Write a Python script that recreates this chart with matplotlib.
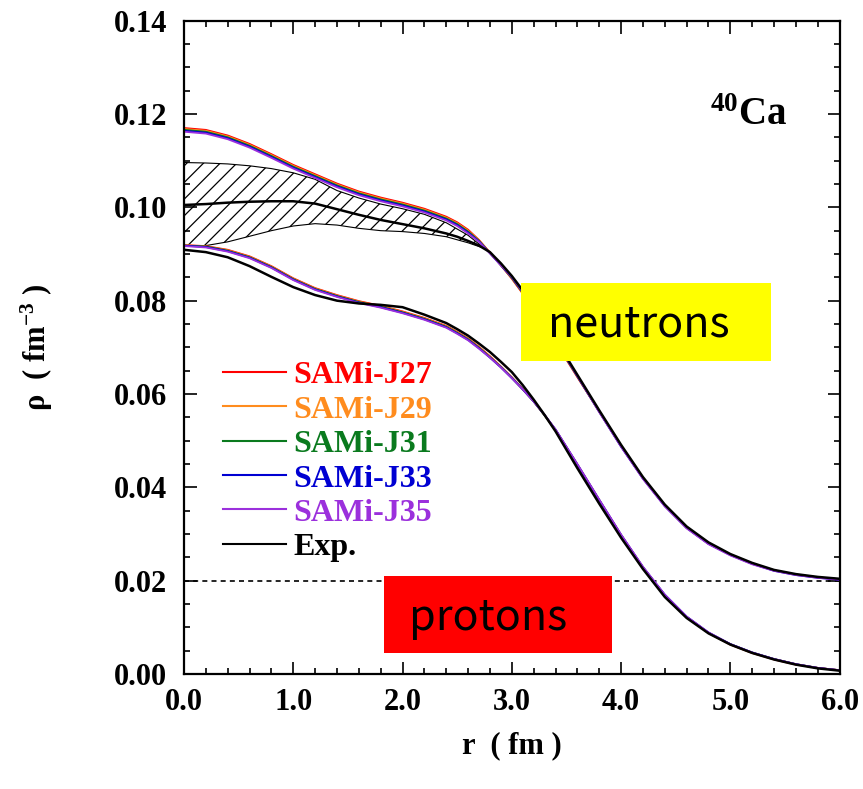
import matplotlib
matplotlib.use("Agg")
import matplotlib.pyplot as plt
from matplotlib.patches import Rectangle
from matplotlib.ticker import MultipleLocator, FormatStrFormatter

# fonts
plt.rcParams['font.family'] = ['Liberation Serif', 'DejaVu Serif']
plt.rcParams['font.weight'] = 'bold'
plt.rcParams['mathtext.fontset'] = 'custom'
plt.rcParams['mathtext.rm'] = 'Liberation Serif:bold'
plt.rcParams['mathtext.bf'] = 'Liberation Serif:bold'
plt.rcParams['mathtext.default'] = 'rm'
plt.rcParams['hatch.linewidth'] = 0.9

# radius grid (fm), denser around the surface knee
r = [0.0, 0.2, 0.4, 0.6, 0.8, 1.0, 1.2, 1.4, 1.6, 1.8, 2.0,
     2.2, 2.4, 2.5, 2.6, 2.7, 2.8, 2.9, 3.0, 3.1, 3.2, 3.3, 3.4, 3.6, 3.8, 4.0,
     4.2, 4.4, 4.6, 4.8, 5.0, 5.2, 5.4, 5.6, 5.8, 6.0]

# proton densities (fm^-3)
p_j27 = [0.0919, 0.0917, 0.0909, 0.0895, 0.0874, 0.0848, 0.0827, 0.0812, 0.0799, 0.0789, 0.0777,
         0.0763, 0.0746, 0.0733, 0.0719, 0.0701, 0.0681, 0.0659, 0.0636, 0.0611, 0.0585, 0.0555,
         0.0523, 0.0448, 0.0372, 0.0297,
         0.0228, 0.0168, 0.0122, 0.0088, 0.0063, 0.0045, 0.0031, 0.0020, 0.0013, 0.0008]
p_j29 = [0.0919, 0.0916, 0.0908, 0.0894, 0.0873, 0.0847, 0.0826, 0.0811, 0.0798, 0.0788, 0.0776,
         0.0762, 0.0745, 0.0732, 0.0718, 0.0700, 0.0680, 0.0658, 0.0635, 0.0610, 0.0584, 0.0554,
         0.0523, 0.0448, 0.0372, 0.0297,
         0.0228, 0.0169, 0.0122, 0.0088, 0.0063, 0.0045, 0.0032, 0.0021, 0.0013, 0.0008]
p_j31 = [0.0918, 0.0916, 0.0907, 0.0893, 0.0872, 0.0846, 0.0825, 0.0810, 0.0797, 0.0787, 0.0775,
         0.0761, 0.0744, 0.0731, 0.0717, 0.0699, 0.0679, 0.0658, 0.0635, 0.0610, 0.0584, 0.0554,
         0.0523, 0.0449, 0.0373, 0.0298,
         0.0229, 0.0169, 0.0122, 0.0088, 0.0064, 0.0046, 0.0032, 0.0021, 0.0013, 0.0008]
p_j33 = [0.0918, 0.0915, 0.0906, 0.0892, 0.0871, 0.0845, 0.0824, 0.0809, 0.0796, 0.0786, 0.0774,
         0.0760, 0.0743, 0.0730, 0.0716, 0.0698, 0.0678, 0.0657, 0.0634, 0.0610, 0.0584, 0.0555,
         0.0524, 0.0449, 0.0373, 0.0298,
         0.0229, 0.0170, 0.0123, 0.0089, 0.0064, 0.0046, 0.0032, 0.0021, 0.0013, 0.0008]
p_j35 = [0.0917, 0.0914, 0.0905, 0.0891, 0.0870, 0.0844, 0.0823, 0.0808, 0.0795, 0.0785, 0.0773,
         0.0759, 0.0742, 0.0729, 0.0715, 0.0697, 0.0678, 0.0657, 0.0634, 0.0610, 0.0584, 0.0555,
         0.0524, 0.0450, 0.0374, 0.0299,
         0.0230, 0.0170, 0.0123, 0.0089, 0.0064, 0.0046, 0.0032, 0.0021, 0.0013, 0.0008]
p_exp = [0.0909, 0.0904, 0.0893, 0.0874, 0.0851, 0.0829, 0.0812, 0.0800, 0.0794, 0.0791, 0.0786,
         0.0770, 0.0752, 0.0739, 0.0725, 0.0708, 0.0690, 0.0669, 0.0647, 0.0619, 0.0588, 0.0555,
         0.0520, 0.0441, 0.0365, 0.0292,
         0.0225, 0.0165, 0.0120, 0.0087, 0.0063, 0.0045, 0.0031, 0.0020, 0.0012, 0.0007]

# neutron densities, shifted up by 0.02 fm^-3
n_j27 = [0.1170, 0.1166, 0.1154, 0.1136, 0.1114, 0.1091, 0.1071, 0.1051, 0.1034, 0.1021, 0.1010,
         0.0997, 0.0980, 0.0968, 0.0952, 0.0930, 0.0903, 0.0876, 0.0847, 0.0815, 0.0782, 0.0747,
         0.0711, 0.0636, 0.0563, 0.0489,
         0.0420, 0.0361, 0.0314, 0.0280, 0.0256, 0.0237, 0.0222, 0.0213, 0.0207, 0.0203]
n_j29 = [0.1168, 0.1164, 0.1152, 0.1134, 0.1112, 0.1089, 0.1069, 0.1049, 0.1032, 0.1019, 0.1008,
         0.0995, 0.0978, 0.0966, 0.0950, 0.0929, 0.0903, 0.0876, 0.0848, 0.0816, 0.0784, 0.0748,
         0.0712, 0.0637, 0.0562, 0.0488,
         0.0420, 0.0361, 0.0314, 0.0280, 0.0256, 0.0237, 0.0222, 0.0213, 0.0207, 0.0203]
n_j31 = [0.1166, 0.1162, 0.1150, 0.1132, 0.1110, 0.1087, 0.1067, 0.1047, 0.1030, 0.1017, 0.1006,
         0.0993, 0.0976, 0.0964, 0.0948, 0.0928, 0.0902, 0.0876, 0.0849, 0.0817, 0.0785, 0.0749,
         0.0713, 0.0638, 0.0562, 0.0488,
         0.0419, 0.0360, 0.0313, 0.0279, 0.0255, 0.0236, 0.0222, 0.0213, 0.0207, 0.0203]
n_j33 = [0.1164, 0.1160, 0.1148, 0.1130, 0.1108, 0.1085, 0.1065, 0.1045, 0.1028, 0.1015, 0.1004,
         0.0991, 0.0974, 0.0962, 0.0946, 0.0927, 0.0902, 0.0876, 0.0850, 0.0818, 0.0786, 0.0750,
         0.0714, 0.0638, 0.0562, 0.0487,
         0.0419, 0.0360, 0.0313, 0.0279, 0.0255, 0.0236, 0.0221, 0.0212, 0.0206, 0.0202]
n_j35 = [0.1162, 0.1158, 0.1146, 0.1128, 0.1106, 0.1083, 0.1063, 0.1043, 0.1026, 0.1013, 0.1002,
         0.0989, 0.0972, 0.0960, 0.0944, 0.0926, 0.0901, 0.0876, 0.0851, 0.0819, 0.0787, 0.0751,
         0.0715, 0.0639, 0.0561, 0.0487,
         0.0418, 0.0359, 0.0312, 0.0278, 0.0254, 0.0235, 0.0221, 0.0212, 0.0206, 0.0202]
n_exp = [0.1005, 0.1007, 0.1010, 0.1012, 0.1013, 0.1013, 0.1008, 0.0996, 0.0984, 0.0973, 0.0964,
         0.0955, 0.0944, 0.0937, 0.0928, 0.0918, 0.0904, 0.0880, 0.0853, 0.0822, 0.0789, 0.0754,
         0.0717, 0.0641, 0.0565, 0.0491,
         0.0422, 0.0363, 0.0316, 0.0282, 0.0257, 0.0238, 0.0223, 0.0214, 0.0208, 0.0204]

# experimental neutron uncertainty band (shifted)
r_band = [0.0, 0.2, 0.4, 0.6, 0.8, 1.0, 1.2, 1.4, 1.6, 1.8, 2.0, 2.2, 2.4, 2.6, 2.75]
band_hi = [0.1096, 0.1095, 0.1093, 0.1089, 0.1083, 0.1074, 0.1060, 0.1036, 0.1020, 0.1007,
           0.0997, 0.0985, 0.0967, 0.0940, 0.0912]
band_lo = [0.0917, 0.0918, 0.0926, 0.0938, 0.0950, 0.0960, 0.0965, 0.0962, 0.0955, 0.0950,
           0.0948, 0.0944, 0.0937, 0.0924, 0.0912]

labels = ['SAMi-J27', 'SAMi-J29', 'SAMi-J31', 'SAMi-J33', 'SAMi-J35', 'Exp.']
colors = ['#FF0000', '#FF8C1E', '#0A7A1E', '#0000D2', '#9B30DC', '#000000']
protons = [p_j27, p_j29, p_j31, p_j33, p_j35]
neutrons = [n_j27, n_j29, n_j31, n_j33, n_j35]

fig = plt.figure(figsize=(8.63, 7.89), dpi=100)
ax = fig.add_axes([0.2132, 0.1458, 0.7597, 0.828])

# hatched band
ax.fill_between(r_band, band_lo, band_hi, facecolor='none', edgecolor='black',
                hatch='//', linewidth=0.8, zorder=1)

for c, p, n in zip(colors, protons, neutrons):
    ax.plot(r, p, color=c, lw=1.3, zorder=2)
    ax.plot(r, n, color=c, lw=1.3, zorder=2)
ax.plot(r, p_exp, color='black', lw=1.8, zorder=3)
ax.plot(r, n_exp, color='black', lw=1.8, zorder=3)

# baseline of shifted neutron density
ax.axhline(0.02, color='black', lw=1.2, ls=(0, (3, 2.5)), zorder=1)

# labelled boxes
ax.add_patch(Rectangle((3.08, 0.0671), 2.29, 0.0166, facecolor='#FFFF00',
                       edgecolor='none', zorder=5))
ax.text(4.16, 0.0723, 'neutrons', family=['Noto Sans CJK JP', 'DejaVu Sans'],
        fontweight='normal', fontsize=31, ha='center', va='baseline', zorder=6)
ax.add_patch(Rectangle((1.83, 0.00444), 2.09, 0.01656, facecolor='#FF0000',
                       edgecolor='none', zorder=5))
ax.text(2.78, 0.0094, 'protons', family=['Noto Sans CJK JP', 'DejaVu Sans'],
        fontweight='normal', fontsize=31, ha='center', va='baseline', zorder=6)

ax.text(0.921, 0.840, '$^{40}$Ca', transform=ax.transAxes, fontsize=28,
        ha='right', va='baseline')

# legend drawn by hand
for i, (lab, c) in enumerate(zip(labels, colors)):
    yy = 0.4627 - 0.0527 * i
    ax.plot([0.0595, 0.156], [yy, yy], color=c, lw=1.5, transform=ax.transAxes)
    ax.text(0.1665, yy - 0.0178, lab, color=c, fontsize=23, fontweight='bold',
            transform=ax.transAxes, ha='left', va='baseline')

ax.set_xlim(0, 6)
ax.set_ylim(0, 0.14)
ax.xaxis.set_major_locator(MultipleLocator(1.0))
ax.xaxis.set_minor_locator(MultipleLocator(0.2))
ax.yaxis.set_major_locator(MultipleLocator(0.02))
ax.yaxis.set_minor_locator(MultipleLocator(0.005))
ax.xaxis.set_major_formatter(FormatStrFormatter('%.1f'))
ax.yaxis.set_major_formatter(FormatStrFormatter('%.2f'))
ax.tick_params(which='both', direction='in', top=True, right=True, width=1.2)
ax.tick_params(which='major', length=9, labelsize=22)
ax.tick_params(which='minor', length=4.5)
ax.tick_params(axis='y', pad=12)
ax.tick_params(axis='x', pad=10)
for s in ax.spines.values():
    s.set_linewidth(1.6)

ax.set_xlabel('r  ( fm )', fontsize=22, fontweight='bold', labelpad=10)
ax.set_ylabel('ρ  ( fm$^{-3}$ )', fontsize=22, fontweight='bold', labelpad=42)

fig.savefig('out.png', dpi=100)
